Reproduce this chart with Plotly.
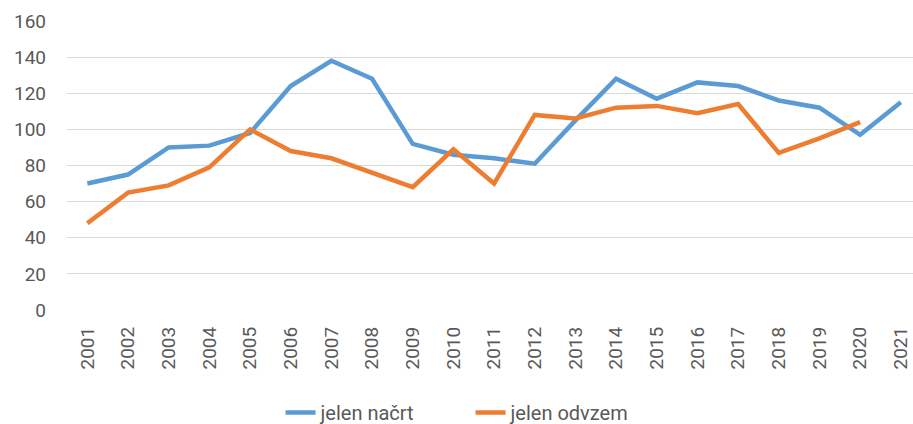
import plotly.graph_objects as go

years = [str(y) for y in range(2001, 2022)]
jelen_nacrt = [70, 75, 90, 91, 98, 124, 138, 128, 92, 86, 84, 81, 105, 128, 117, 126, 124, 116, 112, 97, 115]
jelen_odvzem = [48, 65, 69, 79, 100, 88, 84, 76, 68, 89, 70, 108, 106, 112, 113, 109, 114, 87, 95, 104, None]

fig = go.Figure()
fig.add_trace(go.Scatter(x=years, y=jelen_nacrt, mode="lines", name="jelen načrt",
                         line=dict(color="#5B9BD5", width=4.5), cliponaxis=False))
fig.add_trace(go.Scatter(x=years, y=jelen_odvzem, mode="lines", name="jelen odvzem",
                         line=dict(color="#ED7D31", width=4.5), cliponaxis=False))

fig.update_layout(
    width=913, height=424,
    margin=dict(l=67, r=0, t=21, b=114, autoexpand=False),
    paper_bgcolor="white", plot_bgcolor="white",
    font=dict(family="Roboto", size=19, color="#595959"),
    showlegend=True,
    legend=dict(orientation="h", x=0.477, xanchor="center", y=-0.355, yanchor="middle",
                font=dict(size=20, color="#595959"), itemwidth=30, entrywidth=145,
                tracegroupgap=0),
    xaxis=dict(type="category", range=[-0.5, 20.3], tickangle=-90, showgrid=False,
               showline=False, zeroline=False, ticks="", automargin=False,
               ticklabelstandoff=12, tickfont=dict(size=19, color="#595959")),
    yaxis=dict(range=[0, 160], dtick=20, showgrid=True, gridcolor="#D9D9D9", gridwidth=1.3,
               zeroline=False, showline=False, ticks="", ticklabelstandoff=20, automargin=False,
               tickfont=dict(size=19, color="#595959")),
)
fig.write_html("out.html", config={"displayModeBar": False},
               post_script="document.body.style.margin='0';document.body.style.overflow='hidden';")
